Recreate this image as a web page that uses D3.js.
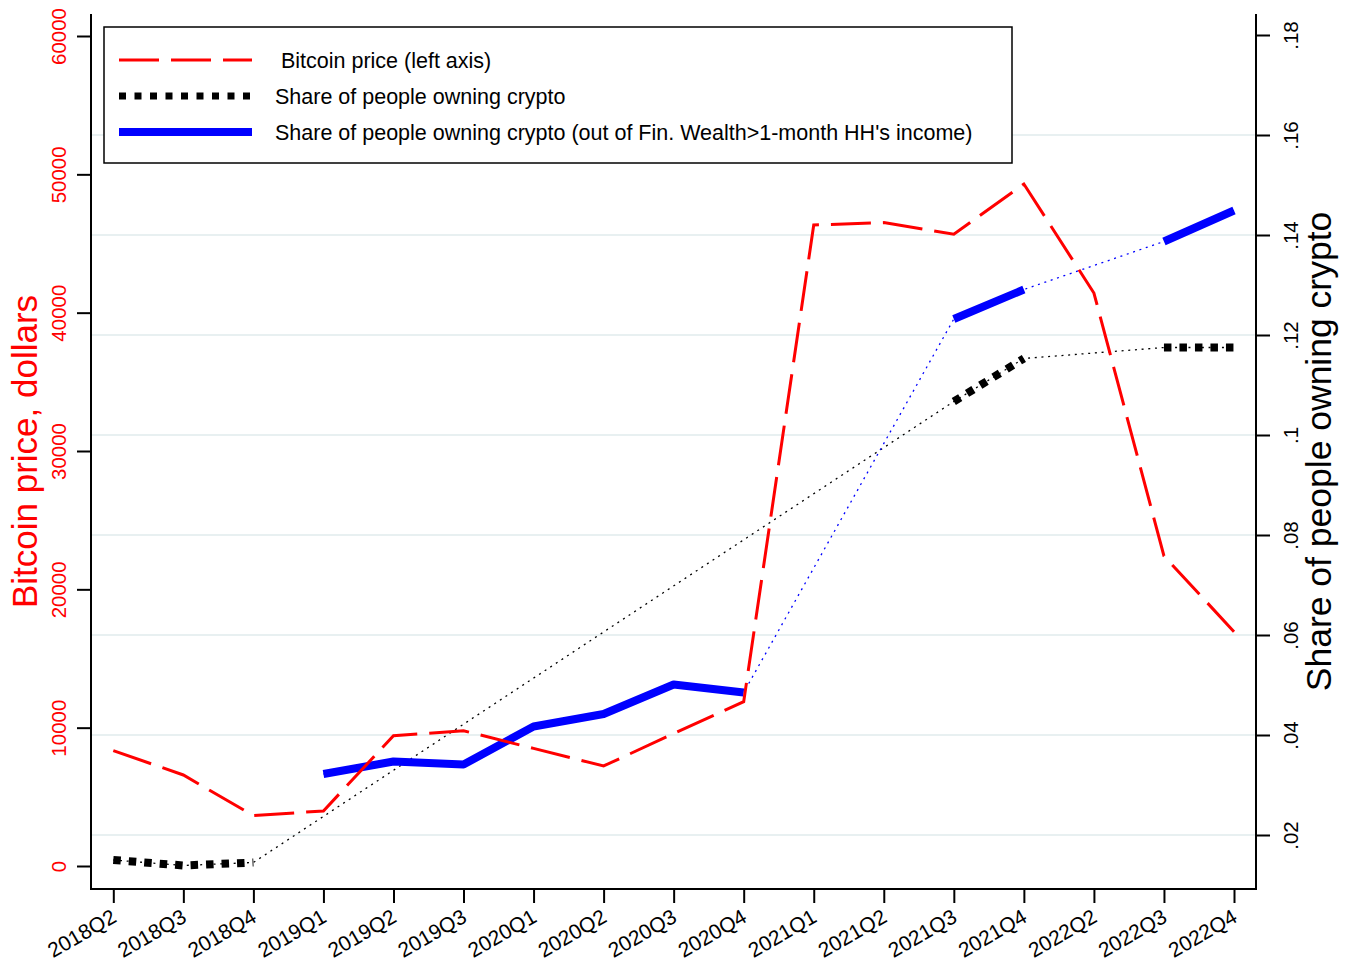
<!DOCTYPE html>
<html>
<head>
<meta charset="utf-8">
<script src="https://cdn.jsdelivr.net/npm/d3@7"></script>
<style>
  html, body { margin: 0; padding: 0; background: #fff; }
  svg { display: block; font-family: "Liberation Sans", Arial, sans-serif; }
</style>
</head>
<body>
<div class="canvas"></div>
<script>
const quarters = ["2018Q2", "2018Q3", "2018Q4", "2019Q1", "2019Q2", "2019Q3", "2020Q1", "2020Q2", "2020Q3",
  "2020Q4", "2021Q1", "2021Q2", "2021Q3", "2021Q4", "2022Q2", "2022Q3", "2022Q4"];
const bitcoinPrice = [8340, 6580, 3640, 3980, 9420, 9780, 8500, 7230, 9570, 11880, 46340, 46510, 45670, 49300,
  41420, 22410, 16940];
const shareOwning = [0.0150, 0.0139, 0.0145, null, null, null, null, null, null, null, null, null, 0.1067, 0.1153,
  null, 0.1175, 0.1175];
const shareOwningWealth = [null, null, null, 0.0322, 0.0347, 0.0341, 0.0417, 0.0442, 0.0501, 0.0485, null, null,
  0.1232, 0.1291, null, 0.1387, 0.1449];
const leftTicks = [0, 10000, 20000, 30000, 40000, 50000, 60000];
const rightTicks = [0.02, 0.04, 0.06, 0.08, 0.1, 0.12, 0.14, 0.16, 0.18];
const legendLabels = [" Bitcoin price (left axis)", "Share of people owning crypto",
  "Share of people owning crypto (out of Fin. Wealth>1-month HH's income)"];

const W = 1352, H = 961;
const plotLeft = 91, plotRight = 1256, plotTop = 14, plotBottom = 889;

const svg = d3.select(".canvas").append("svg").attr("width", W).attr("height", H);

let xScale = d3.scalePoint().domain(quarters).range([113.3, 1234]);
let yLeft = d3.scaleLinear().domain([0, 60000]).range([866, 36]);
let yRight = d3.scaleLinear().domain([0.02, 0.18]).range([835, 35]);

// grid (right axis)
svg.append("g")
  .selectAll("line")
  .data(rightTicks.filter((d) => d < 0.17))
  .join("line")
  .attr("x1", plotLeft).attr("x2", plotRight)
  .attr("y1", (d) => yRight(d)).attr("y2", (d) => yRight(d))
  .attr("stroke", "#e8f0f1")
  .attr("stroke-width", 2.2);

// axes
let gl = svg.append("g").attr("transform", `translate(${plotLeft},0)`)
  .call(d3.axisLeft(yLeft).tickValues(leftTicks).tickSize(14).tickFormat(d3.format("d")));
gl.selectAll("text")
  .attr("transform", "rotate(-90)")
  .attr("x", 0).attr("y", -25).attr("dy", 0)
  .attr("text-anchor", "middle")
  .attr("fill", "#ff0000")
  .style("font-size", "20.5px");

let gr = svg.append("g").attr("transform", `translate(${plotRight},0)`)
  .call(d3.axisRight(yRight).tickValues(rightTicks).tickSize(14)
    .tickFormat((d) => d3.format(".2~f")(d).replace(/^0/, "")));
gr.selectAll("text")
  .attr("transform", "rotate(-90)")
  .attr("x", 0).attr("y", 42).attr("dy", 0)
  .attr("text-anchor", "middle")
  .attr("fill", "#000")
  .style("font-size", "20.5px");

let gb = svg.append("g").attr("transform", `translate(0,${plotBottom})`)
  .call(d3.axisBottom(xScale).tickSize(14));
gb.selectAll("text")
  .attr("x", 0).attr("y", 0).attr("dy", 0)
  .attr("transform", "translate(4,32) rotate(-30)")
  .attr("text-anchor", "end")
  .attr("fill", "#000")
  .style("font-size", "21px");

[gl, gr, gb].forEach((g) => {
  g.select(".domain").remove();
  g.selectAll(".tick line").attr("stroke", "#000").attr("stroke-width", 2);
  g.attr("font-family", null).attr("font-size", null);
});

svg.append("path")
  .attr("d", `M${plotLeft},${plotTop}V${plotBottom}H${plotRight}V${plotTop}`)
  .attr("fill", "none").attr("stroke", "#000").attr("stroke-width", 2);

// series
let idx = quarters.map((q, i) => i);
let thinLine = (vals) => d3.line()
  .x((i) => xScale(quarters[i]))
  .y((i) => yRight(vals[i]))(idx.filter((i) => vals[i] != null));
let thickLine = (vals) => d3.line()
  .defined((i) => vals[i] != null)
  .x((i) => xScale(quarters[i]))
  .y((i) => yRight(vals[i]))(idx);

svg.append("path").attr("d", thinLine(shareOwning))
  .attr("fill", "none").attr("stroke", "#000").attr("stroke-width", 1.3).attr("stroke-dasharray", "2 4.7");
svg.append("path").attr("d", thickLine(shareOwning))
  .attr("fill", "none").attr("stroke", "#000").attr("stroke-width", 8).attr("stroke-dasharray", "7.5 8");

svg.append("path").attr("d", thinLine(shareOwningWealth))
  .attr("fill", "none").attr("stroke", "#0000ff").attr("stroke-width", 1.3).attr("stroke-dasharray", "2 4.7");
svg.append("path").attr("d", thickLine(shareOwningWealth))
  .attr("fill", "none").attr("stroke", "#0000ff").attr("stroke-width", 8).attr("stroke-linejoin", "round");

svg.append("path")
  .attr("d", d3.line().x((d, i) => xScale(quarters[i])).y((d) => yLeft(d))(bitcoinPrice))
  .attr("fill", "none").attr("stroke", "#ff0000").attr("stroke-width", 3).attr("stroke-dasharray", "40 12");

// axis titles
svg.append("text")
  .attr("transform", `translate(37,${(plotTop + plotBottom) / 2}) rotate(-90)`)
  .attr("text-anchor", "middle")
  .attr("fill", "#ff0000")
  .style("font-size", "35px")
  .text("Bitcoin price, dollars");
svg.append("text")
  .attr("transform", `translate(1331,${(plotTop + plotBottom) / 2}) rotate(-90)`)
  .attr("text-anchor", "middle")
  .attr("fill", "#000")
  .style("font-size", "35.5px")
  .text("Share of people owning crypto");

// legend
let legend = svg.append("g");
legend.append("rect")
  .attr("x", 104).attr("y", 27).attr("width", 908).attr("height", 136)
  .attr("fill", "#fff").attr("stroke", "#000").attr("stroke-width", 1.5);
let legendStyles = [
  { stroke: "#ff0000", width: 3, dash: "40 12" },
  { stroke: "#000", width: 7, dash: "7 8.5" },
  { stroke: "#0000ff", width: 8, dash: null },
];
legendLabels.forEach((label, i) => {
  let y = 60 + i * 36;
  legend.append("line")
    .attr("x1", 119).attr("x2", 252).attr("y1", y).attr("y2", y)
    .attr("stroke", legendStyles[i].stroke)
    .attr("stroke-width", legendStyles[i].width)
    .attr("stroke-dasharray", legendStyles[i].dash);
  legend.append("text")
    .attr("x", 275).attr("y", y + 7.5)
    .style("font-size", "21.5px")
    .style("white-space", "pre")
    .text(label);
});
</script>
</body>
</html>
